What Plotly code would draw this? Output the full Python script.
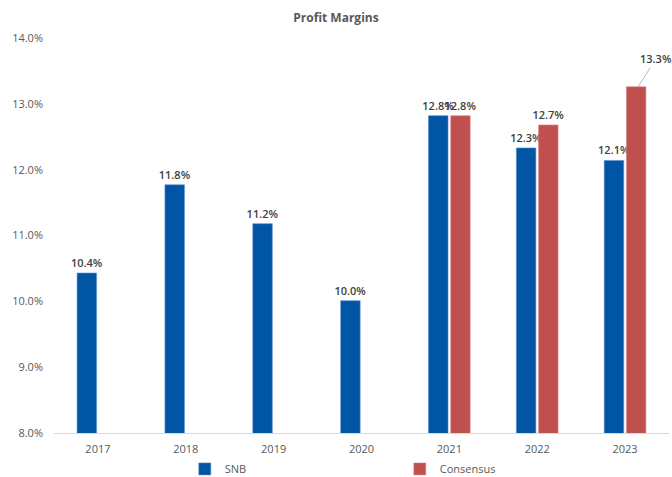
import plotly.graph_objects as go

years = ["2017", "2018", "2019", "2020", "2021", "2022", "2023"]
snb = [10.43, 11.77, 11.18, 10.01, 12.82, 12.33, 12.14]
consensus = [None, None, None, None, 12.82, 12.68, 13.26]
y_ticks = [8, 9, 10, 11, 12, 13, 14]

SNB_COLOR = "#0055A5"
CON_COLOR = "#C0504D"
FONT = "Open Sans"

def lab(v):
    return "" if v is None else f"{v:.1f}%"

# the last consensus label is drawn with a leader line (annotation)
con_text = [lab(v) for v in consensus[:-1]] + [""]

fig = go.Figure()
fig.add_trace(go.Bar(
    x=years, y=snb, name="SNB", marker=dict(color=SNB_COLOR, line=dict(color="#5B8FD0", width=0.6)),
    text=[lab(v) for v in snb], textposition="outside", constraintext="none", cliponaxis=False,
    textfont=dict(family=FONT, size=11, color="#404040", weight=600),
))
fig.add_trace(go.Bar(
    x=years, y=consensus, name="Consensus", marker=dict(color=CON_COLOR, line=dict(color="#E08A88", width=0.6)),
    text=con_text, textposition="outside", constraintext="none", cliponaxis=False,
    textfont=dict(family=FONT, size=11, color="#404040", weight=600),
))

fig.add_annotation(
    x=len(years) - 1, y=consensus[-1], xshift=13, text=lab(consensus[-1]),
    showarrow=True, arrowhead=0, arrowwidth=0.8, arrowcolor="#A6A6A6",
    ax=18, ay=-28, standoff=0,
    font=dict(family=FONT, size=11, color="#404040", weight=600),
)

fig.update_layout(
    width=672, height=477,
    margin=dict(l=54, r=3, t=38, b=44, autoexpand=False),
    paper_bgcolor="white", plot_bgcolor="white",
    barmode="group", bargap=0.495, bargroupgap=0.12,
    title=dict(text="<b>Profit Margins</b>", x=0.5, xanchor="center", y=0.963, yanchor="middle",
               font=dict(family=FONT, size=12, color="#595959")),
    showlegend=True,
    legend=dict(orientation="h", xref="container", yref="container", x=0.275, y=0.017,
                xanchor="left", yanchor="middle", entrywidth=170, entrywidthmode="pixels",
                font=dict(family=FONT, size=11, color="#595959"), traceorder="normal"),
)
fig.update_xaxes(
    type="category", range=[-0.5, len(years) - 0.5], autorange=False, automargin=False,
    showgrid=False, showline=True, linecolor="#D9D9D9", linewidth=1,
    ticks="", ticklabelstandoff=6,
    tickfont=dict(family=FONT, size=11, color="#595959"),
)
fig.update_yaxes(
    range=[8, 14], tickvals=y_ticks, ticktext=[f"{v:.1f}%" for v in y_ticks], automargin=False,
    showgrid=False, zeroline=False, showline=False, ticks="", ticklabelstandoff=10,
    tickfont=dict(family=FONT, size=11, color="#595959"),
)

fig.write_html("out.html")
